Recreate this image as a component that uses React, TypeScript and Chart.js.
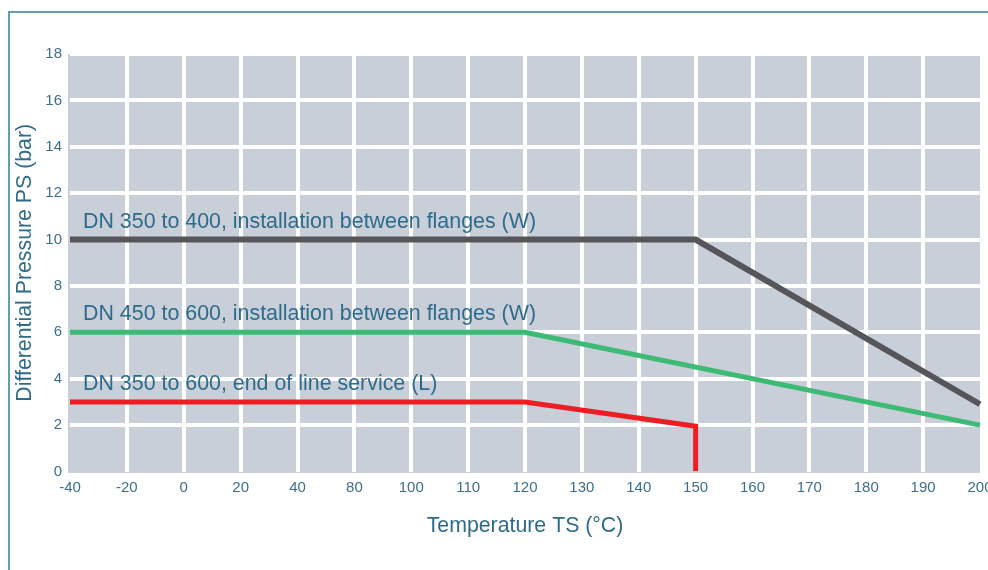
import React, { useEffect, useRef } from 'react';
import { Chart, registerables } from 'chart.js';

Chart.register(...registerables);

// ---- data ----
const categories = ['-40', '-20', '0', '20', '40', '80', '100', '110', '120', '130', '140', '150', '160', '170', '180', '190', '200'];
const yTickMin = 0;
const yTickMax = 18;
const yTickStep = 2;

const grayX = ['-40', '150', '200'];
const grayY = [10, 10, 2.9];

const greenX = ['-40', '120', '200'];
const greenY = [6, 6, 2];

const redX = ['-40', '120', '150', '150'];
const redY = [3, 3, 1.95, 0];

const seriesLabels = [
  'DN 350 to 400, installation between flanges (W)',
  'DN 450 to 600, installation between flanges (W)',
  'DN 350 to 600, end of line service (L)',
];
const seriesLabelValues = [10, 6, 3];

const xTitle = 'Temperature TS (°C)';
const yTitle = 'Differential Pressure PS (bar)';

const FONT = '"Liberation Sans", Arial, Helvetica, sans-serif';
const TEXT = '#2e6b8b';
const TICK = '#3b6f8d';

export default function App() {
  const ref = useRef<HTMLCanvasElement>(null);

  useEffect(() => {
    if (!ref.current) return;

    const bgPlugin = {
      id: 'bgPlot',
      beforeDraw(chart: any) {
        const { ctx, chartArea: a } = chart;
        ctx.save();
        ctx.fillStyle = '#c9cfd9';
        ctx.fillRect(a.left - 2, a.top, a.right - a.left + 2, a.bottom - a.top + 1.5);
        ctx.restore();
      },
    };

    const labelPlugin = {
      id: 'seriesText',
      afterDatasetsDraw(chart: any) {
        const { ctx } = chart;
        const xs = chart.scales.x;
        const ys = chart.scales.y;
        const x0 = xs.getPixelForValue(0) + 13;
        ctx.save();
        ctx.font = `21.4px ${FONT}`;
        ctx.fillStyle = TEXT;
        ctx.textAlign = 'left';
        ctx.textBaseline = 'alphabetic';
        seriesLabels.forEach((t, i) => {
          ctx.fillText(t, x0, ys.getPixelForValue(seriesLabelValues[i]) - 12);
        });
        ctx.restore();
      },
    };

    const mk = (xs: string[], ys: number[], color: string, w: number) => ({
      data: xs.map((x, i) => ({ x, y: ys[i] })),
      borderColor: color,
      backgroundColor: color,
      borderWidth: w,
      pointRadius: 0,
      tension: 0,
      fill: false,
    });

    const chart = new Chart(ref.current, {
      type: 'line',
      data: {
        labels: categories,
        datasets: [
          mk(grayX, grayY, '#56565a', 6),
          mk(greenX, greenY, '#3dba74', 5),
          mk(redX, redY, '#ee1d23', 5),
        ] as any,
      },
      options: {
        responsive: false,
        animation: false,
        devicePixelRatio: 1,
        layout: { padding: { top: 54, right: 8, bottom: 0, left: 0 } },
        plugins: {
          legend: { display: false },
          tooltip: { enabled: false },
        },
        scales: {
          x: {
            type: 'category',
            offset: false,
            border: { display: false },
            grid: {
              color: (c: any) =>
                c.index === 0 || c.index === categories.length - 1 ? 'rgba(0,0,0,0)' : '#ffffff',
              lineWidth: 4,
              drawTicks: false,
            },
            ticks: {
              autoSkip: false,
              maxRotation: 0,
              padding: 7,
              color: TICK,
              font: { size: 15, family: FONT },
            },
            title: {
              display: true,
              text: xTitle,
              color: TEXT,
              font: { size: 21.3, family: FONT },
              padding: { top: 0, bottom: 31 },
            },
            afterFit(s: any) {
              s.height = 98.5;
              s.paddingLeft = 0;
              s.paddingRight = 0;
            },
          },
          y: {
            min: yTickMin,
            max: yTickMax,
            border: { display: false },
            grid: {
              color: (c: any) => (c.tick && c.tick.value === 0 ? 'rgba(0,0,0,0)' : '#ffffff'),
              lineWidth: 4,
              drawTicks: false,
            },
            ticks: {
              stepSize: yTickStep,
              padding: 8,
              color: TICK,
              font: { size: 15, family: FONT },
            },
            title: {
              display: true,
              text: yTitle,
              color: TEXT,
              font: { size: 21.3, family: FONT },
              padding: { top: 12, bottom: 0 },
            },
            afterFit(s: any) {
              s.width = 70;
            },
          },
        },
      },
      plugins: [bgPlugin, labelPlugin],
    } as any);

    return () => chart.destroy();
  }, []);

  return (
    <div style={{ position: 'absolute', left: 0, top: 0, width: 988, height: 570, overflow: 'hidden', background: '#ffffff' }}>
      <div
        style={{
          position: 'absolute',
          left: 8,
          top: 11,
          width: 1000,
          height: 600,
          borderTop: '2px solid #629eb1',
          borderLeft: '2px solid #629eb1',
        }}
      />
      <canvas ref={ref} width={988} height={570} style={{ position: 'absolute', left: 0, top: 0 }} />
    </div>
  );
}
